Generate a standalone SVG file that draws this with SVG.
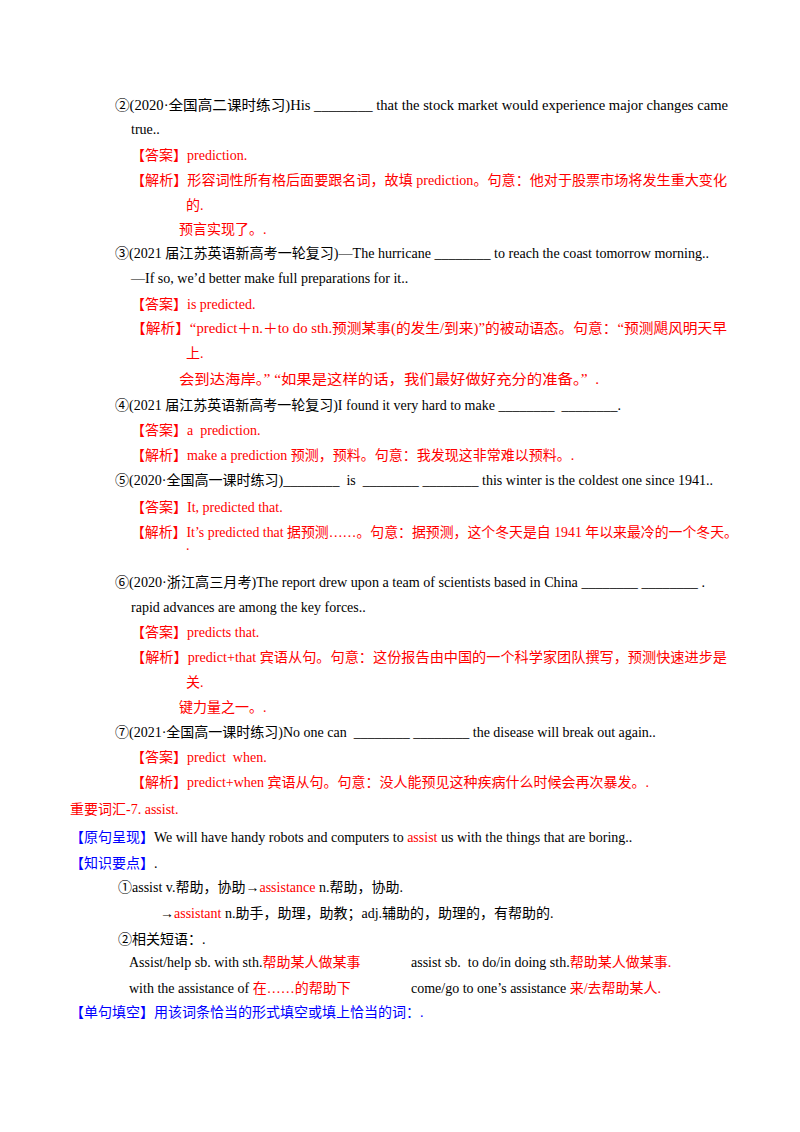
<svg xmlns="http://www.w3.org/2000/svg" width="800" height="1132" viewBox="0 0 800 1132">
<style>
text{font-family:"Liberation Serif","Noto Sans CJK SC",serif;font-size:14px;fill:#000;white-space:pre}
.r{fill:#f00}
.b{fill:#00f}
</style>
<rect width="800" height="1132" fill="#fff"/>
<g id="q2">
<text x="115" y="110" textLength="613" lengthAdjust="spacingAndGlyphs">②(2020·全国高二课时练习)His ________ that the stock market would experience major changes came</text>
<text x="131" y="134">true..</text>
<text x="131" y="160" class="r">【答案】prediction.</text>
<text x="131" y="185" class="r" textLength="596" lengthAdjust="spacingAndGlyphs">【解析】形容词性所有格后面要跟名词，故填 prediction。句意：他对于股票市场将发生重大变化</text>
<text x="186" y="210" class="r">的.</text>
<text x="179" y="234" class="r">预言实现了。.</text>
</g>
<g id="q3">
<text x="115" y="258" textLength="594" lengthAdjust="spacingAndGlyphs">③(2021 届江苏英语新高考一轮复习)—The hurricane ________ to reach the coast tomorrow morning..</text>
<text x="131" y="283">—If so, we’d better make full preparations for it..</text>
<text x="131" y="309" class="r">【答案】is predicted.</text>
<text x="131" y="333" class="r" textLength="596" lengthAdjust="spacingAndGlyphs">【解析】“predict＋n.＋to do sth.预测某事(的发生/到来)”的被动语态。句意：“预测飓风明天早</text>
<text x="186" y="358" class="r">上.</text>
<text x="179" y="384" class="r" textLength="420" lengthAdjust="spacingAndGlyphs">会到达海岸。” “如果是这样的话，我们最好做好充分的准备。”  .</text>
</g>
<g id="q4">
<text x="115" y="410">④(2021 届江苏英语新高考一轮复习)I found it very hard to make ________  ________.</text>
<text x="131" y="435" class="r">【答案】a  prediction.</text>
<text x="131" y="460" class="r">【解析】make a prediction 预测，预料。句意：我发现这非常难以预料。.</text>
</g>
<g id="q5">
<text x="115" y="485" textLength="598" lengthAdjust="spacingAndGlyphs">⑤(2020·全国高一课时练习)________  is  ________ ________ this winter is the coldest one since 1941..</text>
<text x="131" y="512" class="r">【答案】It, predicted that.</text>
<text x="131" y="537" class="r" textLength="607" lengthAdjust="spacingAndGlyphs">【解析】It’s predicted that 据预测……。句意：据预测，这个冬天是自 1941 年以来最冷的一个冬天。</text>
<text x="186" y="550" class="r">.</text>
</g>
<g id="q6">
<text x="115" y="587" textLength="590" lengthAdjust="spacingAndGlyphs">⑥(2020·浙江高三月考)The report drew upon a team of scientists based in China ________ ________ .</text>
<text x="131" y="612">rapid advances are among the key forces..</text>
<text x="131" y="637" class="r">【答案】predicts that.</text>
<text x="131" y="662" class="r" textLength="596" lengthAdjust="spacingAndGlyphs">【解析】predict+that 宾语从句。句意：这份报告由中国的一个科学家团队撰写，预测快速进步是</text>
<text x="186" y="687" class="r">关.</text>
<text x="179" y="712" class="r">键力量之一。.</text>
</g>
<g id="q7">
<text x="115" y="737">⑦(2021·全国高一课时练习)No one can  ________ ________ the disease will break out again..</text>
<text x="131" y="762" class="r">【答案】predict  when.</text>
<text x="131" y="787" class="r">【解析】predict+when 宾语从句。句意：没人能预见这种疾病什么时候会再次暴发。.</text>
</g>
<g id="vocab">
<text x="70" y="814" class="r">重要词汇-7. assist.</text>
<text x="70" y="842"><tspan class="b">【原句呈现】</tspan>We will have handy robots and computers to <tspan class="r">assist</tspan> us with the things that are boring..</text>
<text x="70" y="868"><tspan class="b">【知识要点】</tspan>.</text>
<text x="118" y="892">①assist v.帮助，协助→<tspan class="r">assistance</tspan> n.帮助，协助.</text>
<text x="160" y="918">→<tspan class="r">assistant</tspan> n.助手，助理，助教；adj.辅助的，助理的，有帮助的.</text>
<text x="118" y="944">②相关短语：.</text>
<text x="129" y="967">Assist/help sb. with sth.<tspan class="r">帮助某人做某事</tspan></text>
<text x="411" y="967">assist sb.  to do/in doing sth.<tspan class="r">帮助某人做某事.</tspan></text>
<text x="129" y="993">with the assistance of <tspan class="r">在……的帮助下</tspan></text>
<text x="411" y="993">come/go to one’s assistance <tspan class="r">来/去帮助某人.</tspan></text>
<text x="70" y="1017" class="b">【单句填空】用该词条恰当的形式填空或填上恰当的词：.</text>
</g>
</svg>
